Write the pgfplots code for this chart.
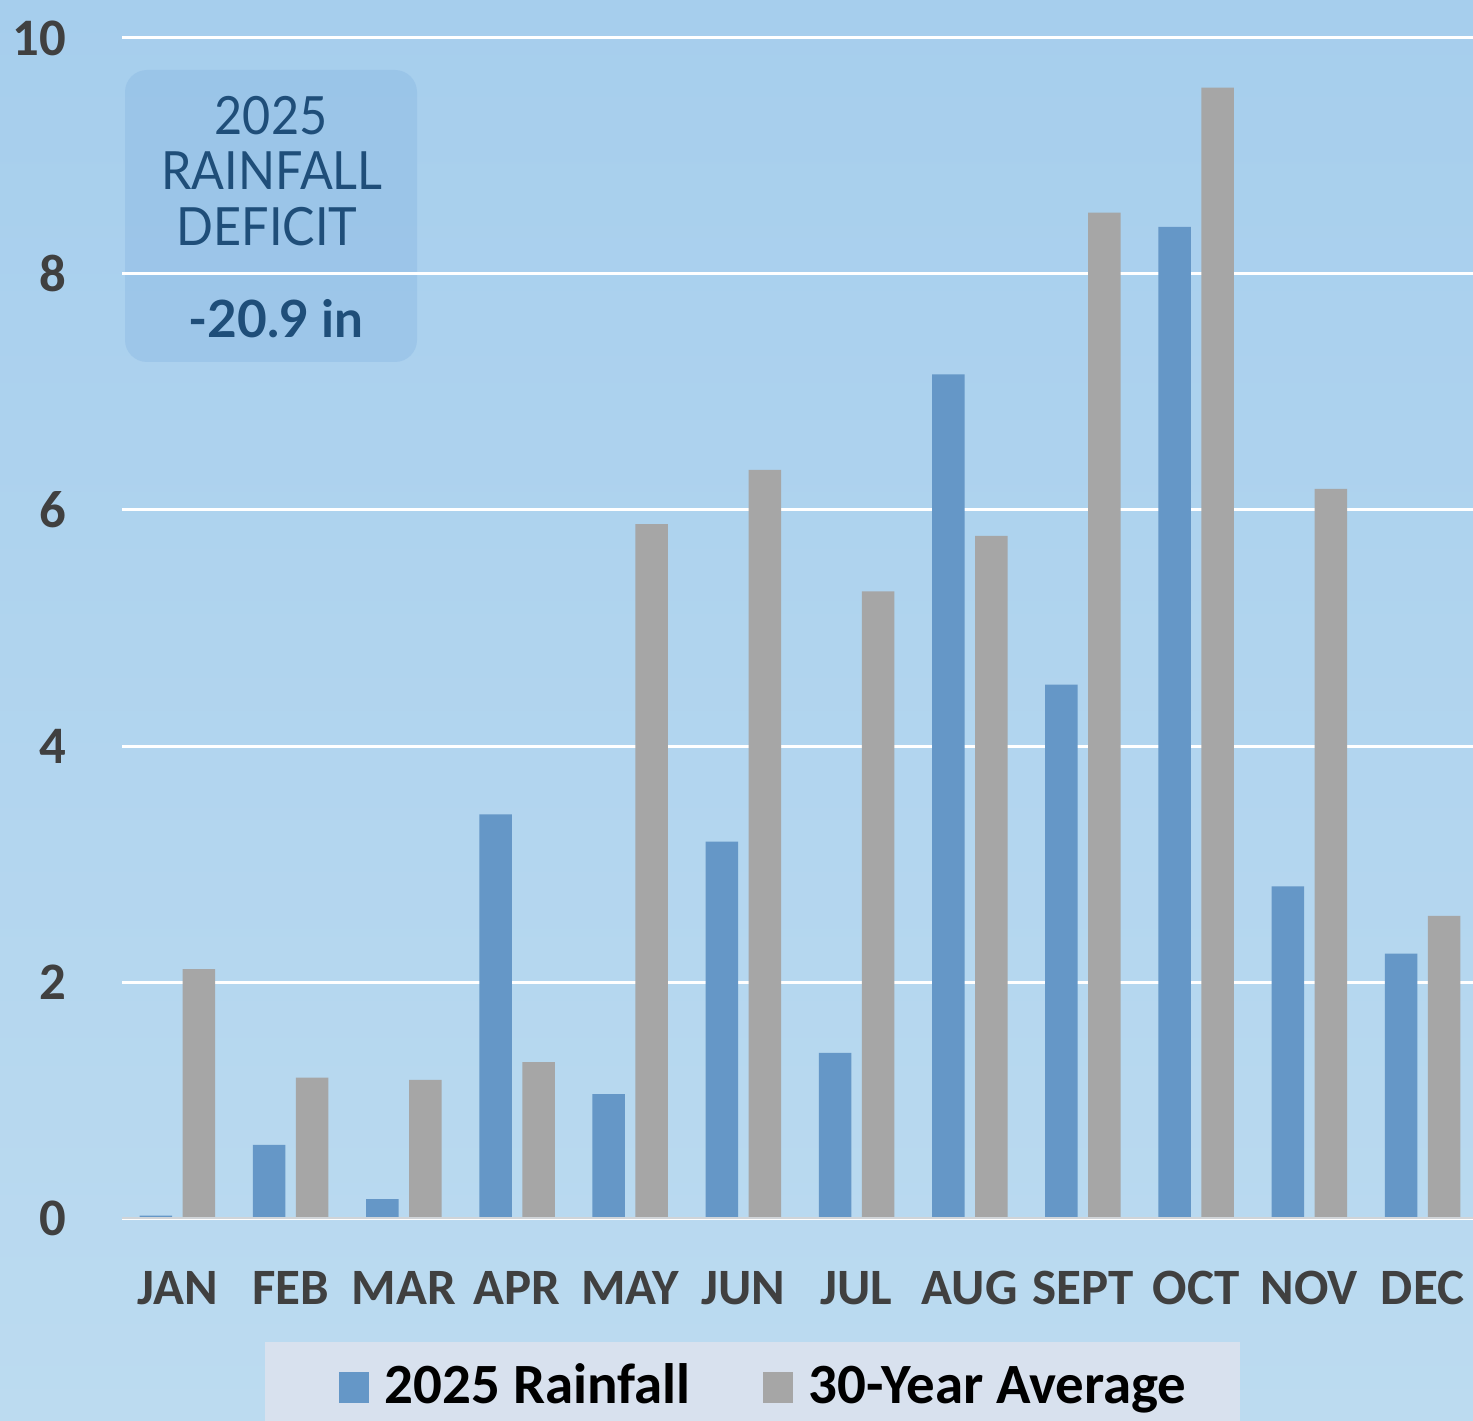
\documentclass[border=0pt]{standalone}
\usepackage{fontspec}
\setmainfont{Carlito}
\newfontfamily\latofont[FakeStretch=0.92]{Lato}
\newfontfamily\latoboldfont{Lato}
\usepackage{pgfplots}
\pgfplotsset{compat=1.18}
\definecolor{bgtop}{RGB}{166,206,237}
\definecolor{bgbot}{RGB}{188,219,240}
\definecolor{barblue}{RGB}{101,151,199}
\definecolor{bargray}{RGB}{166,166,166}
\definecolor{ticklabel}{RGB}{64,64,64}
\definecolor{legendbg}{RGB}{216,225,238}
\definecolor{insetbox}{RGB}{140,185,228}
\definecolor{deftext}{RGB}{31,78,121}
\definecolor{baselinecol}{RGB}{208,212,216}
\begin{document}
\begin{tikzpicture}
\fill[top color=bgtop, bottom color=bgbot] (0,0) rectangle (147.3mm,142mm);
\fill[insetbox, fill opacity=0.45, rounded corners=2.2mm] (12.5mm,105.8mm) rectangle (41.7mm,135mm);
\fill[legendbg] (26.5mm,-1mm) rectangle (124mm,7.8mm);
\begin{axis}[
  width=135.1mm, height=118mm, scale only axis,
  at={(12.2mm,20.2mm)}, anchor=south west,
  xmin=-0.49, xmax=11.446, ymin=0, ymax=10,
  ybar=1.05mm, bar width=3.25mm,
  axis line style={draw=none},
  tick style={draw=none}, major tick length=0pt,
  ytick={0,2,4,6,8,10},
  ymajorgrids, grid style={white, line width=0.3mm},
  xtick={0,1,2,3,4,5,6,7,8,9,10,11},
  xticklabels={JAN,FEB,MAR,APR,MAY,JUN,JUL,AUG,SEPT,OCT,NOV,DEC},
  /pgf/number format/assume math mode=true,
  yticklabel style={font=\bfseries\fontsize{15}{18}\selectfont, text=ticklabel, anchor=east, inner sep=0pt, xshift=-5.5mm},
  xticklabel style={font=\bfseries\fontsize{14.5}{17}\selectfont, text=ticklabel, anchor=base, inner sep=0pt, yshift=-8.6mm},
  legend columns=2,
  legend style={at={(0.1599,-0.1475)}, anchor=west, draw=none, fill=none, inner sep=0pt,
    font=\bfseries\fontsize{16.2}{19}\selectfont, text=black,
    nodes={inner sep=0pt, text height=0.75em, text depth=0.25em},
    /tikz/every even column/.append style={column sep=7.2mm},
    /tikz/every odd column/.append style={column sep=1.6mm}},
  legend image code/.code={\fill[#1] (0mm,-0.8mm) rectangle (3.0mm,2.3mm);},
]
\addplot[fill=barblue, draw=none] coordinates {
(0,0.02) (1,0.62) (2,0.16) (3,3.42) (4,1.05) (5,3.19)
(6,1.40) (7,7.15) (8,4.52) (9,8.40) (10,2.81) (11,2.24)};
\addplot[fill=bargray, draw=none] coordinates {
(0,2.11) (1,1.19) (2,1.17) (3,1.32) (4,5.88) (5,6.34)
(6,5.31) (7,5.78) (8,8.52) (9,9.58) (10,6.18) (11,2.56)};
\legend{2025 Rainfall, 30-Year Average}
\draw[draw=baselinecol, line width=0.3mm] (axis cs:-0.49,0) -- (axis cs:11.446,0);
\end{axis}
\node[anchor=base, text=deftext, font=\latofont\fontsize{15}{18}\selectfont, inner sep=0pt] at (27.1mm,128.5mm) {2025};
\node[anchor=base, text=deftext, font=\latofont\fontsize{15}{18}\selectfont, inner sep=0pt] at (27.2mm,123.0mm) {RAINFALL};
\node[anchor=base, text=deftext, font=\latofont\fontsize{15}{18}\selectfont, inner sep=0pt] at (26.7mm,117.4mm) {DEFICIT};
\node[anchor=base, text=deftext, font=\latoboldfont\bfseries\fontsize{14.6}{18}\selectfont, inner sep=0pt] at (27.6mm,108.2mm) {-20.9 in};
\pgfresetboundingbox
\path[use as bounding box] (0,0) rectangle (147.3mm,142mm);
\end{tikzpicture}
\end{document}
